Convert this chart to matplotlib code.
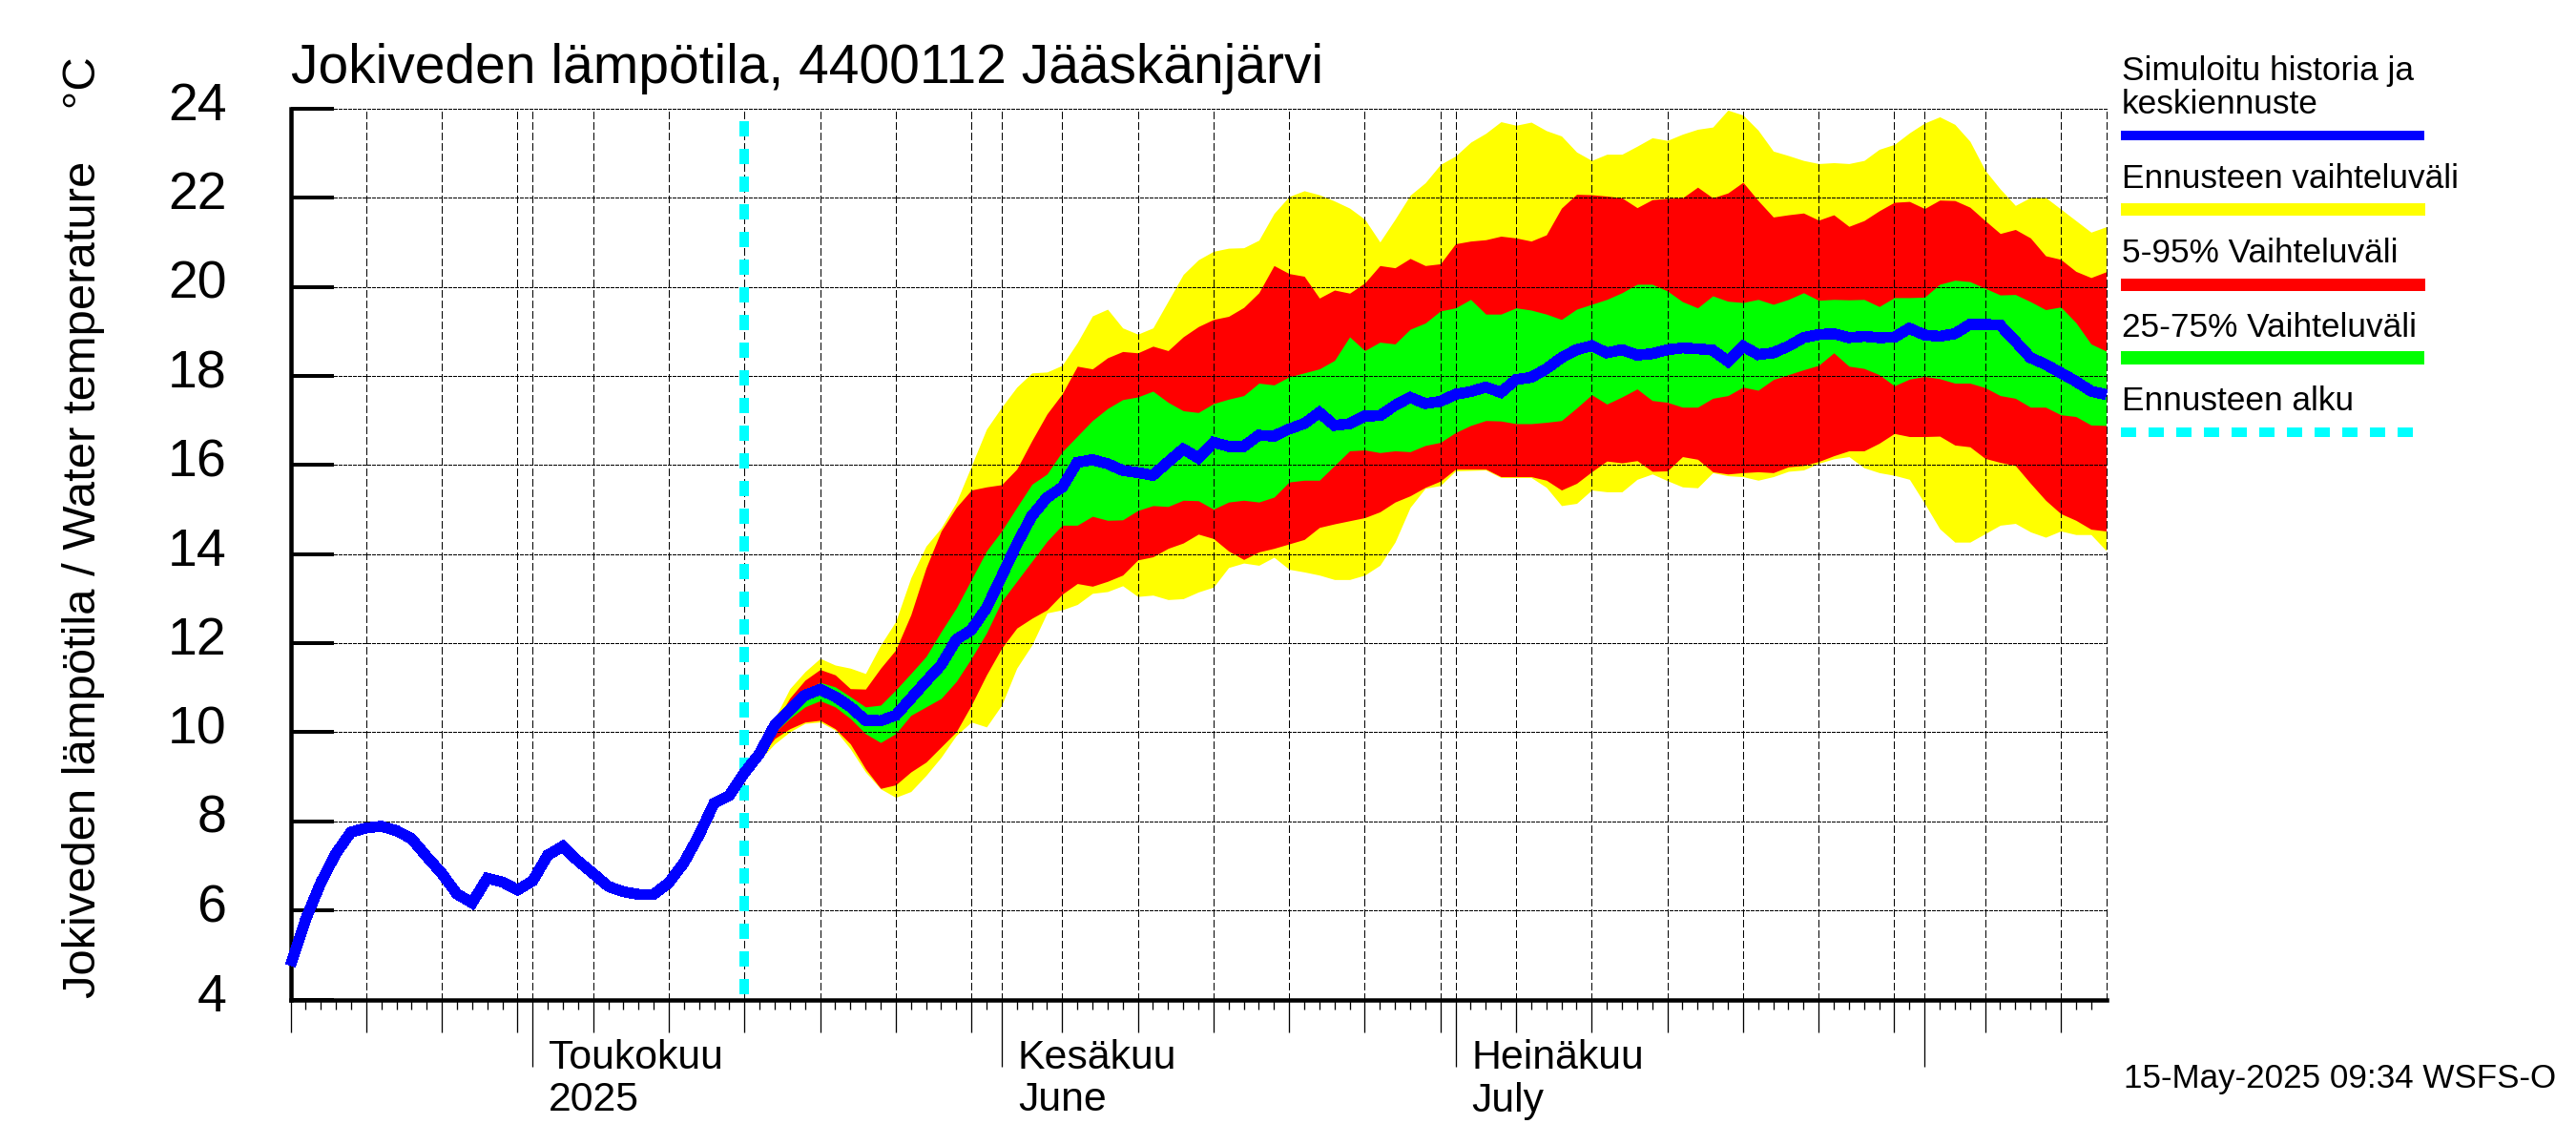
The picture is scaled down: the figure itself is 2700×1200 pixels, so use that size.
import numpy as np
import matplotlib
matplotlib.use("Agg")
import matplotlib.pyplot as plt
from matplotlib.lines import Line2D
from matplotlib.transforms import ScaledTranslation

W, H, DPI = 2700, 1200, 100
plt.rcParams['font.family'] = ['Liberation Sans', 'DejaVu Sans']
plt.rcParams['lines.scale_dashes'] = False

# Days are counted from 15 April 2025
history_days = list(range(0, 31))
history = [4.77, 5.80, 6.62, 7.28, 7.76, 7.85, 7.89, 7.79, 7.61, 7.21, 6.83, 6.37, 6.17, 6.72, 6.64, 6.46,
           6.66, 7.24, 7.44, 7.11, 6.83, 6.54, 6.42, 6.36, 6.36, 6.62, 7.07, 7.69, 8.41, 8.58, 9.09]

forecast_days = list(range(30, 121))
median = [9.09, 9.52, 10.16, 10.50, 10.83, 10.96, 10.80, 10.57, 10.27, 10.26, 10.38, 10.76, 11.14, 11.51, 12.08,
          12.30, 12.79, 13.50, 14.22, 14.86, 15.27, 15.50, 16.06, 16.12, 16.03, 15.88, 15.83, 15.77, 16.07, 16.36,
          16.16, 16.51, 16.42, 16.42, 16.67, 16.65, 16.81, 16.93, 17.18, 16.89, 16.93, 17.10, 17.11, 17.34, 17.52,
          17.38, 17.43, 17.59, 17.65, 17.75, 17.63, 17.92, 17.97, 18.16, 18.41, 18.59, 18.68, 18.52, 18.59, 18.47,
          18.50, 18.59, 18.63, 18.61, 18.58, 18.33, 18.67, 18.48, 18.52, 18.67, 18.86, 18.93, 18.95, 18.86, 18.89,
          18.86, 18.87, 19.07, 18.92, 18.89, 18.95, 19.16, 19.16, 19.14, 18.78, 18.41, 18.26, 18.07, 17.88, 17.66, 17.58]
yellow_top = [9.09, 9.65, 10.31, 10.98, 11.36, 11.66, 11.51, 11.44, 11.32, 11.96, 12.49, 13.47, 14.18, 14.59, 15.16,
              15.98, 16.81, 17.30, 17.75, 18.07, 18.09, 18.24, 18.75, 19.35, 19.50, 19.08, 18.94, 19.08, 19.68, 20.28,
              20.61, 20.80, 20.87, 20.88, 21.05, 21.65, 22.03, 22.16, 22.07, 21.93, 21.77, 21.52, 21.01, 21.52, 22.06,
              22.34, 22.75, 22.94, 23.25, 23.45, 23.71, 23.63, 23.70, 23.51, 23.39, 23.03, 22.84, 22.98, 22.98, 23.16,
              23.35, 23.29, 23.43, 23.54, 23.59, 23.97, 23.86, 23.52, 23.05, 22.95, 22.84, 22.77, 22.79, 22.77, 22.84,
              23.09, 23.20, 23.46, 23.68, 23.82, 23.65, 23.27, 22.62, 22.20, 21.83, 22.01, 22.01, 21.75, 21.49, 21.23, 21.35]
red_top = [9.09, 9.58, 10.20, 10.77, 11.17, 11.41, 11.29, 10.98, 10.97, 11.44, 11.85, 12.64, 13.69, 14.52, 15.05,
           15.44, 15.51, 15.56, 15.91, 16.55, 17.15, 17.60, 18.22, 18.16, 18.41, 18.55, 18.52, 18.67, 18.57, 18.88,
           19.11, 19.27, 19.34, 19.54, 19.87, 20.48, 20.30, 20.24, 19.75, 19.93, 19.86, 20.09, 20.48, 20.43, 20.64,
           20.48, 20.52, 20.97, 21.03, 21.06, 21.14, 21.10, 21.03, 21.17, 21.77, 22.08, 22.07, 22.04, 22.00, 21.78,
           21.96, 21.99, 22.00, 22.24, 22.00, 22.11, 22.35, 21.94, 21.57, 21.62, 21.66, 21.50, 21.62, 21.36, 21.49,
           21.71, 21.90, 21.92, 21.76, 21.95, 21.94, 21.79, 21.49, 21.20, 21.29, 21.10, 20.70, 20.62, 20.35, 20.21, 20.34]
green_top = [9.09, 9.55, 10.25, 10.61, 10.95, 11.12, 11.02, 10.80, 10.57, 10.61, 10.95, 11.32, 11.70, 12.26, 12.79,
             13.43, 14.07, 14.52, 15.05, 15.57, 15.80, 16.30, 16.65, 17.00, 17.27, 17.47, 17.53, 17.66, 17.41, 17.22,
             17.18, 17.38, 17.48, 17.56, 17.84, 17.80, 17.98, 18.07, 18.16, 18.35, 18.88, 18.57, 18.76, 18.72, 19.05,
             19.19, 19.46, 19.53, 19.72, 19.39, 19.39, 19.53, 19.48, 19.39, 19.27, 19.50, 19.61, 19.72, 19.87, 20.06,
             20.06, 19.91, 19.67, 19.53, 19.80, 19.68, 19.65, 19.72, 19.61, 19.72, 19.87, 19.70, 19.72, 19.71, 19.72,
             19.56, 19.76, 19.76, 19.77, 20.06, 20.15, 20.12, 19.97, 19.82, 19.83, 19.67, 19.49, 19.55, 19.20, 18.72, 18.56]
green_bottom = [9.09, 9.50, 10.00, 10.31, 10.57, 10.71, 10.57, 10.31, 9.97, 9.77, 9.97, 10.38, 10.57, 10.76, 11.14,
                11.66, 12.23, 12.94, 13.39, 13.84, 14.29, 14.65, 14.65, 14.85, 14.76, 14.77, 14.98, 15.09, 15.07, 15.21,
                15.20, 15.01, 15.17, 15.21, 15.17, 15.28, 15.62, 15.66, 15.66, 15.99, 16.32, 16.34, 16.28, 16.32, 16.30,
                16.44, 16.51, 16.73, 16.89, 17.00, 16.99, 16.93, 16.93, 16.96, 17.00, 17.28, 17.58, 17.37, 17.53, 17.71,
                17.45, 17.41, 17.30, 17.30, 17.50, 17.56, 17.75, 17.68, 17.92, 18.03, 18.14, 18.24, 18.52, 18.22, 18.17,
                18.03, 17.78, 17.93, 17.99, 17.94, 17.84, 17.84, 17.74, 17.56, 17.50, 17.30, 17.30, 17.13, 17.09, 16.90, 16.89]
red_bottom = [9.09, 9.42, 9.86, 10.08, 10.23, 10.27, 10.08, 9.74, 9.18, 8.74, 8.82, 9.11, 9.33, 9.67, 10.01,
              10.61, 11.29, 11.89, 12.34, 12.56, 12.75, 13.10, 13.34, 13.28, 13.39, 13.53, 13.87, 13.94, 14.13, 14.25,
              14.45, 14.35, 14.07, 13.88, 14.05, 14.13, 14.23, 14.33, 14.60, 14.68, 14.75, 14.82, 14.95, 15.17, 15.31,
              15.50, 15.64, 15.91, 15.91, 15.91, 15.74, 15.74, 15.74, 15.66, 15.44, 15.59, 15.85, 16.09, 16.05, 16.10,
              15.86, 15.87, 16.19, 16.13, 15.85, 15.80, 15.83, 15.85, 15.83, 15.96, 15.99, 16.08, 16.21, 16.32, 16.32,
              16.49, 16.71, 16.64, 16.64, 16.65, 16.45, 16.41, 16.15, 16.06, 15.99, 15.59, 15.21, 14.91, 14.76, 14.56, 14.52]
yellow_bottom = [9.09, 9.38, 9.74, 10.01, 10.20, 10.23, 10.05, 9.63, 9.11, 8.73, 8.54, 8.67, 9.03, 9.44, 9.93,
                 10.23, 10.12, 10.61, 11.44, 11.96, 12.68, 12.75, 12.87, 13.12, 13.16, 13.29, 13.05, 13.08, 12.98, 13.00,
                 13.15, 13.26, 13.70, 13.80, 13.75, 13.93, 13.66, 13.60, 13.53, 13.43, 13.43, 13.53, 13.75, 14.27, 15.05,
                 15.48, 15.54, 15.87, 15.88, 15.89, 15.72, 15.72, 15.72, 15.50, 15.09, 15.14, 15.44, 15.40, 15.40, 15.68,
                 15.80, 15.65, 15.51, 15.49, 15.83, 15.76, 15.74, 15.66, 15.74, 15.86, 15.89, 16.04, 16.14, 16.19, 15.94,
                 15.83, 15.77, 15.68, 15.14, 14.57, 14.27, 14.27, 14.46, 14.65, 14.69, 14.50, 14.38, 14.52, 14.44, 14.44, 14.08]

forecast_start_day = 30
forecast_marker_top = 23.72
month_days = [16, 47, 77, 108]
five_day_ticks = [0, 5, 10, 15, 20, 25, 30, 35, 40, 45, 51, 56, 61, 66, 71, 76, 81, 86, 91, 96, 101, 106, 112, 117]
grid_end_day = 120
y_ticks = [4, 6, 8, 10, 12, 14, 16, 18, 20, 22, 24]
month_labels = [(16, 'Toukokuu', '2025'), (47, 'Kesäkuu', 'June'), (77, 'Heinäkuu', 'July')]
title_text = 'Jokiveden lämpötila, 4400112 Jääskänjärvi'
ylabel_text = 'Jokiveden lämpötila / Water temperature    °C'
stamp_text = '15-May-2025 09:34 WSFS-O'
legend_names = ['Ennusteen vaihteluväli', '5-95% Vaihteluväli', '25-75% Vaihteluväli', 'Ennusteen alku']

BLUE, YELLOW, RED, GREEN, CYAN = '#0000ff', '#ffff00', '#ff0000', '#00ff00', '#00ffff'


def pt(px):
    return px * 72.0 / DPI


def fx(px):
    return px / W


def fy(px):
    return 1 - px / H


fig = plt.figure(figsize=(W / DPI, H / DPI), dpi=DPI, facecolor='white')
ax = fig.add_axes([fx(304.5), fy(1047.5), fx(2207.5 - 304.5), (1047.5 - 114) / H])
ax.set_xlim(0, 120)
ax.set_ylim(4, 24)
for s in ('top', 'right'):
    ax.spines[s].set_visible(False)
for s in ('left', 'bottom'):
    ax.spines[s].set_linewidth(pt(4.5))

fill_kw = dict(linewidth=0, antialiased=False)
ax.fill_between(forecast_days, yellow_bottom, yellow_top, color=YELLOW, zorder=1, **fill_kw)
ax.fill_between(forecast_days, red_bottom, red_top, color=RED, zorder=1.1, **fill_kw)
ax.fill_between(forecast_days, green_bottom, green_top, color=GREEN, zorder=1.2, **fill_kw)

grid_x = sorted(set(five_day_ticks + month_days + [grid_end_day]))
for x in grid_x:
    ax.plot([x, x], [4, 24], color='black', lw=pt(1.3), ls=(0, (pt(7), pt(3))), zorder=2, clip_on=False,
            antialiased=False)
for y in y_ticks[1:]:
    ax.plot([0, grid_end_day], [y, y], color='black', lw=pt(1.3), ls=(0, (pt(4), pt(2))), zorder=2, clip_on=False,
            antialiased=False)

ax.plot([forecast_start_day, forecast_start_day], [forecast_marker_top, 4], color=CYAN, lw=pt(10),
        ls=(0, (pt(15), pt(13.5))), dash_capstyle='butt', zorder=3, antialiased=False)

series_days = history_days + forecast_days[1:]
series_vals = history + median[1:]
ax.plot(series_days, series_vals, color=BLUE, lw=pt(10.5), solid_capstyle='butt', solid_joinstyle='miter',
        zorder=4, clip_on=False, antialiased=False)

major = sorted(set(five_day_ticks + month_days))
ax.set_xticks(major)
ax.set_xticklabels([])
ax.set_xticks(list(range(0, 120)), minor=True)
ax.tick_params(axis='x', which='major', direction='out', length=pt(34), width=pt(1.3), pad=0)
ax.tick_params(axis='x', which='minor', direction='out', length=pt(10), width=pt(1.3))
for tick, x in zip(ax.xaxis.get_major_ticks(), major):
    if x in month_days:
        tick.tick1line.set_markersize(pt(70))

ax.set_yticks(y_ticks)
ax.set_yticklabels([str(v) for v in y_ticks])
ax.tick_params(axis='y', which='major', direction='in', length=pt(45), width=pt(4), pad=pt(67), labelsize=pt(55.5))
shift = ScaledTranslation(0, -12 / DPI, fig.dpi_scale_trans)
for tick in ax.yaxis.get_major_ticks():
    tick.label1.set_verticalalignment('baseline')
    tick.label1.set_transform(tick.label1.get_transform() + shift)

for day, first, second in month_labels:
    ax.annotate(first, xy=(day, 0), xycoords=('data', 'axes fraction'), xytext=(17, -73), textcoords='offset pixels',
                fontsize=pt(42.8), ha='left', va='baseline', annotation_clip=False)
    ax.annotate(second, xy=(day, 0), xycoords=('data', 'axes fraction'), xytext=(17, -117), textcoords='offset pixels',
                fontsize=pt(42.8), ha='left', va='baseline', annotation_clip=False)

fig.text(fx(305), fy(87), title_text, fontsize=pt(57), ha='left', va='baseline')
fig.text(fx(100), fy(1046), ylabel_text, fontsize=pt(49), rotation=90, rotation_mode='anchor', ha='left', va='baseline')
fig.text(fx(2226), fy(1140), stamp_text, fontsize=pt(35), ha='left', va='baseline')

LX0, LX1, LTX = 2223, 2541, 2224
fig.text(fx(LTX), fy(83.6), 'Simuloitu historia ja', fontsize=pt(35.2), ha='left', va='baseline')
fig.text(fx(LTX), fy(118.8), 'keskiennuste', fontsize=pt(35.2), ha='left', va='baseline')
for name, base in zip(legend_names, [196.5, 275, 353.4, 430]):
    fig.text(fx(LTX), fy(base), name, fontsize=pt(35.2), ha='left', va='baseline')
for yc, lw, col in [(142, 10, BLUE), (219.5, 12.5, YELLOW), (297.5, 13, RED), (375, 14, GREEN)]:
    fig.add_artist(Line2D([fx(LX0), fx(LX1)], [fy(yc), fy(yc)], color=col, lw=pt(lw), solid_capstyle='butt',
                          transform=fig.transFigure, antialiased=False))
fig.add_artist(Line2D([fx(LX0), fx(LX1)], [fy(453), fy(453)], color=CYAN, lw=pt(10), ls=(0, (pt(15), pt(13.5))),
                      dash_capstyle='butt', transform=fig.transFigure, antialiased=False))

fig.savefig('out.png', dpi=DPI, facecolor='white')
